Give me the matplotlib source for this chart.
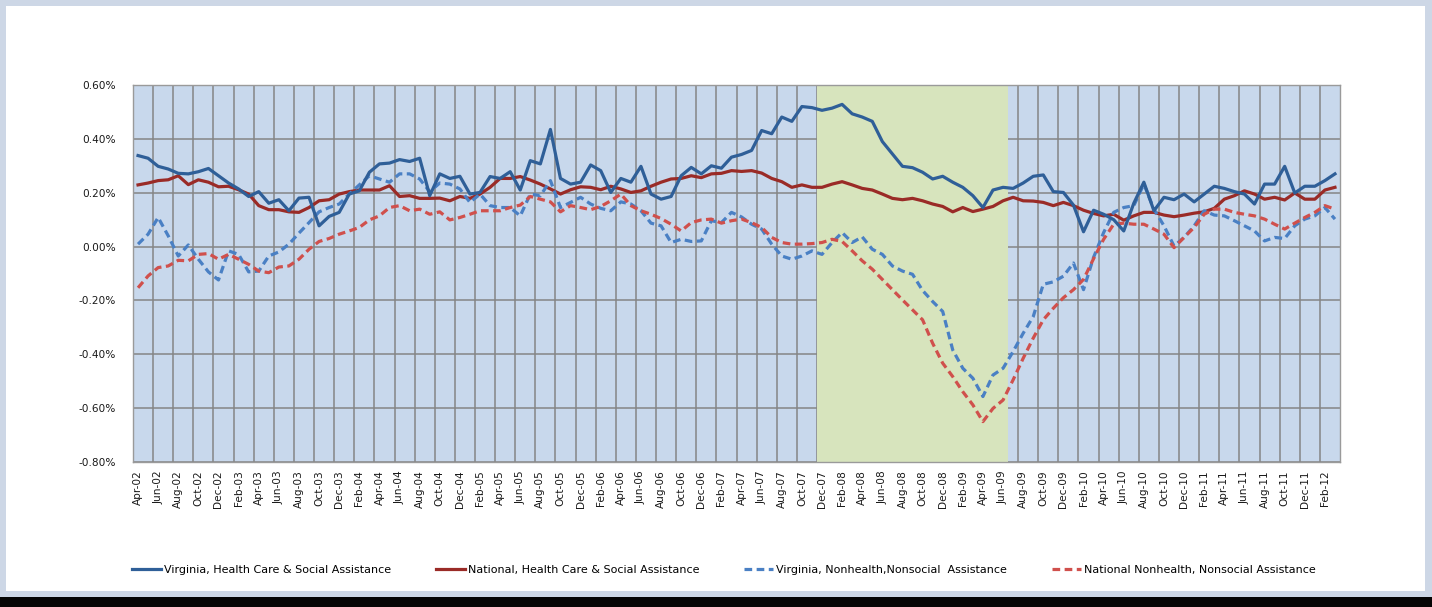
import matplotlib

matplotlib.use("Agg")
import matplotlib.pyplot as plt
import pandas as pd
from matplotlib.patches import Rectangle
from matplotlib.ticker import FuncFormatter, FixedLocator

# monthly series, Apr-2002 .. Mar-2012, values in percent
months = pd.date_range("2002-04-01", periods=120, freq="MS")
month_labels = [m.strftime("%b-%y") for m in months]

va_health = [
	0.338, 0.328, 0.298, 0.288, 0.272, 0.270, 0.278, 0.290, 0.263, 0.236,
	0.214, 0.186, 0.204, 0.161, 0.174, 0.133, 0.180, 0.183, 0.077, 0.112,
	0.127, 0.195, 0.207, 0.276, 0.307, 0.310, 0.323, 0.316, 0.328, 0.189,
	0.270, 0.253, 0.261, 0.195, 0.201, 0.260, 0.253, 0.278, 0.210, 0.319,
	0.307, 0.435, 0.253, 0.232, 0.239, 0.303, 0.282, 0.201, 0.253, 0.239,
	0.298, 0.195, 0.176, 0.186, 0.263, 0.294, 0.270, 0.300, 0.291, 0.332,
	0.342, 0.357, 0.431, 0.419, 0.481, 0.465, 0.520, 0.516, 0.506, 0.514,
	0.528, 0.493, 0.481, 0.465, 0.390, 0.344, 0.298, 0.293, 0.276, 0.251,
	0.261, 0.239, 0.220, 0.189, 0.145, 0.210, 0.220, 0.216, 0.236, 0.261,
	0.266, 0.204, 0.201, 0.154, 0.055, 0.135, 0.120, 0.100, 0.058, 0.161,
	0.239, 0.133, 0.183, 0.174, 0.195, 0.166, 0.195, 0.224, 0.216, 0.204,
	0.195, 0.158, 0.232, 0.232, 0.298, 0.199, 0.224, 0.224, 0.245, 0.270,
]
nat_health = [
	0.229, 0.236, 0.245, 0.248, 0.263, 0.230, 0.248, 0.239, 0.222, 0.224,
	0.211, 0.195, 0.152, 0.137, 0.137, 0.129, 0.127, 0.145, 0.170, 0.174,
	0.195, 0.204, 0.210, 0.210, 0.210, 0.226, 0.186, 0.189, 0.179, 0.179,
	0.180, 0.170, 0.186, 0.179, 0.195, 0.220, 0.253, 0.253, 0.260, 0.247,
	0.232, 0.214, 0.195, 0.211, 0.222, 0.220, 0.211, 0.224, 0.214, 0.201,
	0.207, 0.224, 0.239, 0.251, 0.253, 0.263, 0.256, 0.270, 0.272, 0.282,
	0.279, 0.282, 0.273, 0.253, 0.241, 0.220, 0.229, 0.220, 0.220, 0.232,
	0.241, 0.229, 0.216, 0.210, 0.195, 0.179, 0.174, 0.179, 0.170, 0.158,
	0.149, 0.129, 0.145, 0.130, 0.139, 0.149, 0.170, 0.183, 0.170, 0.169,
	0.164, 0.152, 0.164, 0.152, 0.135, 0.123, 0.114, 0.120, 0.098, 0.114,
	0.127, 0.127, 0.117, 0.111, 0.117, 0.124, 0.129, 0.142, 0.176, 0.189,
	0.207, 0.195, 0.176, 0.183, 0.173, 0.199, 0.176, 0.176, 0.210, 0.220,
]
va_nonhealth = [
	0.009, 0.046, 0.108, 0.040, -0.035, 0.006, -0.047, -0.094, -0.124, -0.016,
	-0.029, -0.094, -0.091, -0.035, -0.020, 0.009, 0.050, 0.089, 0.129, 0.145,
	0.158, 0.195, 0.229, 0.263, 0.251, 0.239, 0.270, 0.270, 0.251, 0.204,
	0.236, 0.232, 0.214, 0.164, 0.195, 0.152, 0.145, 0.145, 0.114, 0.195,
	0.189, 0.245, 0.145, 0.164, 0.183, 0.158, 0.142, 0.133, 0.166, 0.158,
	0.133, 0.087, 0.077, 0.015, 0.027, 0.019, 0.021, 0.096, 0.089, 0.127,
	0.110, 0.083, 0.065, 0.009, -0.035, -0.047, -0.035, -0.016, -0.029, 0.015,
	0.052, 0.015, 0.036, -0.010, -0.029, -0.072, -0.091, -0.103, -0.163, -0.204,
	-0.241, -0.384, -0.452, -0.489, -0.557, -0.477, -0.452, -0.390, -0.322, -0.260,
	-0.140, -0.131, -0.110, -0.061, -0.160, -0.040, 0.052, 0.127, 0.145, 0.152,
	0.232, 0.139, 0.077, 0.002, 0.034, 0.077, 0.133, 0.117, 0.114, 0.096,
	0.077, 0.058, 0.021, 0.034, 0.030, 0.077, 0.102, 0.114, 0.145, 0.102,
]
nat_nonhealth = [
	-0.153, -0.109, -0.078, -0.072, -0.051, -0.053, -0.029, -0.026, -0.047, -0.029,
	-0.047, -0.066, -0.091, -0.097, -0.076, -0.072, -0.047, -0.010, 0.019, 0.030,
	0.046, 0.058, 0.071, 0.099, 0.114, 0.145, 0.152, 0.133, 0.139, 0.120,
	0.129, 0.099, 0.108, 0.120, 0.133, 0.133, 0.133, 0.145, 0.154, 0.186,
	0.176, 0.166, 0.129, 0.152, 0.145, 0.137, 0.149, 0.170, 0.195, 0.152,
	0.133, 0.120, 0.104, 0.083, 0.058, 0.089, 0.099, 0.102, 0.087, 0.096,
	0.102, 0.089, 0.071, 0.034, 0.015, 0.009, 0.009, 0.011, 0.015, 0.027,
	0.019, -0.016, -0.053, -0.084, -0.122, -0.160, -0.198, -0.235, -0.272, -0.359,
	-0.433, -0.483, -0.539, -0.588, -0.650, -0.601, -0.570, -0.495, -0.415, -0.340,
	-0.272, -0.229, -0.190, -0.160, -0.122, -0.045, 0.027, 0.083, 0.087, 0.083,
	0.083, 0.065, 0.046, -0.004, 0.034, 0.071, 0.120, 0.139, 0.139, 0.127,
	0.120, 0.114, 0.102, 0.083, 0.065, 0.087, 0.108, 0.127, 0.152, 0.139,
]

series_names = [
	"Virginia, Health Care & Social Assistance",
	"National, Health Care & Social Assistance",
	"Virginia, Nonhealth,Nonsocial  Assistance",
	"National Nonhealth, Nonsocial Assistance",
]

# recession shading: Dec-07 through Jun-09
recession_start = "2007-12-01"
recession_end = "2009-06-01"


def main() -> None:
	plt.rcParams["font.family"] = ["DejaVu Sans"]
	fig = plt.figure(figsize=(14.32, 6.07), dpi=100, facecolor="#cdd7e6")

	# white chart panel and dark strip at the bottom
	fig.patches.append(Rectangle((0, 0), 1, 10 / 607, transform=fig.transFigure,
		facecolor="#050505", edgecolor="none", zorder=-2))
	fig.patches.append(Rectangle((6 / 1432, 16 / 607), 1419 / 1432, 585 / 607,
		transform=fig.transFigure, facecolor="white", edgecolor="none", zorder=-2))

	ax = fig.add_axes([133 / 1432, 1 - 462 / 607, 1207 / 1432, 377 / 607])
	ax.set_zorder(2)
	ax.set_facecolor("#c8d8ec")
	x = list(range(len(months)))

	start_idx = list(months).index(pd.Timestamp(recession_start))
	end_idx = list(months).index(pd.Timestamp(recession_end))
	ax.axvspan(start_idx - 0.5, end_idx + 0.5, facecolor="#d7e4bd", edgecolor="none", zorder=1)

	ax.plot(x, va_health, color="#2f5f98", linewidth=2.3, label=series_names[0], zorder=4)
	ax.plot(x, nat_health, color="#9a2b27", linewidth=2.3, label=series_names[1], zorder=3)
	ax.plot(x, va_nonhealth, color="#4a80c4", linewidth=2.3, dashes=(2.4, 1.4),
		label=series_names[2], zorder=3)
	ax.plot(x, nat_nonhealth, color="#d0504c", linewidth=2.3, dashes=(2.4, 1.4),
		label=series_names[3], zorder=3)

	ax.set_xlim(-0.5, len(months) - 0.5)
	ax.set_ylim(-0.8, 0.6)
	ax.set_yticks([-0.8, -0.6, -0.4, -0.2, 0.0, 0.2, 0.4, 0.6])
	ax.yaxis.set_major_formatter(FuncFormatter(lambda v, _: f"{v:.2f}%"))

	ax.set_xticks(x[::2])
	ax.set_xticklabels(month_labels[::2], rotation=90, fontsize=7.6, color="#1a1a1a")
	ax.xaxis.set_minor_locator(FixedLocator([i + 1.5 for i in range(0, len(months) - 2, 2)]))
	ax.tick_params(axis="x", which="both", length=0, pad=6)
	ax.tick_params(axis="y", length=0, labelsize=7.6, labelcolor="#1a1a1a", pad=12)

	ax.set_axisbelow(True)
	ax.grid(True, axis="x", which="minor", color="#858585", linewidth=1.1)
	ax.grid(True, axis="y", which="major", color="#858585", linewidth=1.1)
	ax.grid(False, axis="x", which="major")
	for spine in ax.spines.values():
		spine.set_color("#9a9a9a")
		spine.set_linewidth(1.0)

	handles, labels = ax.get_legend_handles_labels()
	fig.legend(handles, labels, loc="center", bbox_to_anchor=(724 / 1432, 1 - 570 / 607), ncol=4,
		frameon=False, fontsize=8, handlelength=2.6, handletextpad=0.3, columnspacing=4.0)

	fig.savefig("out.png", dpi=100, facecolor=fig.get_facecolor())
	plt.close(fig)


if __name__ == "__main__":
	main()
